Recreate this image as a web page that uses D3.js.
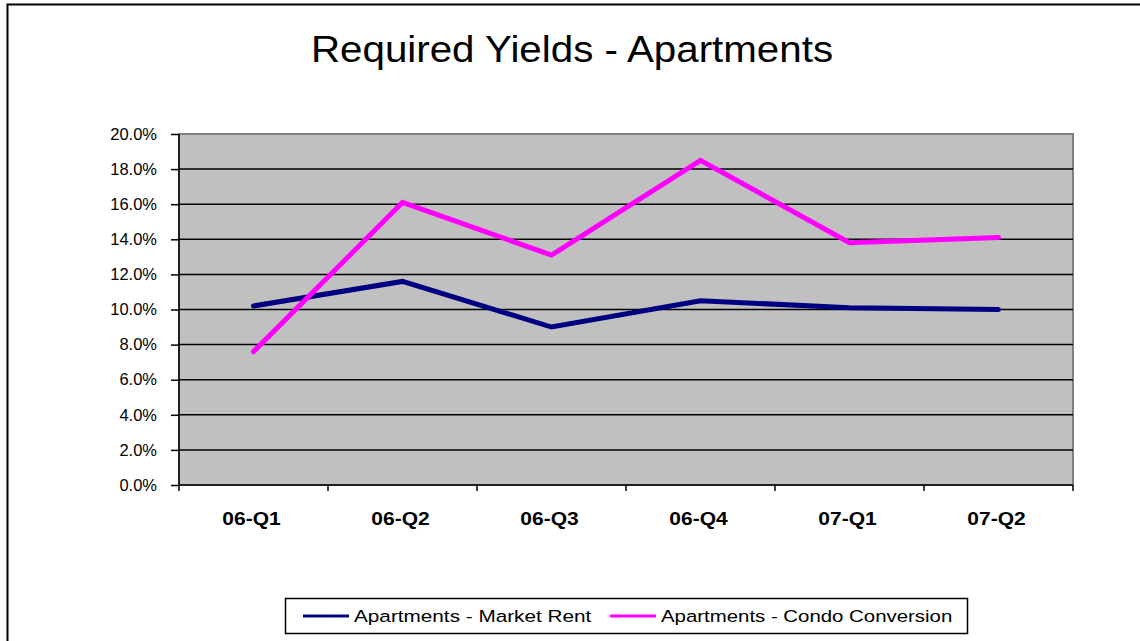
<!DOCTYPE html>
<html lang="en">
    <head>
        <meta charset="utf-8">
        <title>Required Yields - Apartments</title>
        <script src="https://d3js.org/d3.v7.min.js"></script>
        <style type="text/css">
            body { margin: 0; background: #fff; }
            text { font-family: Arial, "Liberation Sans", sans-serif; }
        </style>
    </head>
    <body>
        <script type="text/javascript">

            // data
            var quarters = ["06-Q1", "06-Q2", "06-Q3", "06-Q4", "07-Q1", "07-Q2"];
            var marketRent = [10.2, 11.6, 9.0, 10.5, 10.1, 10.0];
            var condoConversion = [7.6, 16.1, 13.1, 18.5, 13.8, 14.1];
            var yTicks = [0, 2, 4, 6, 8, 10, 12, 14, 16, 18, 20];

            var seriesNames = ["Apartments - Market Rent", "Apartments - Condo Conversion"];
            var seriesColors = ["#000080", "#ff00ff"];

            var svgWidth = 1140, svgHeight = 641;
            var plot = {left: 179, top: 134, right: 1073, bottom: 485};

            var svg = d3.select("body").append("svg")
                .attr("width", svgWidth)
                .attr("height", svgHeight);

            // the original text is a bit wider than Arial, so stretch it horizontally
            function stretchedText(parent, x, y, sx) {
                return parent.append("g")
                    .attr("transform", "translate(" + x + "," + y + ") scale(" + sx + ",1)")
                    .append("text");
            }

            // outer chart border (right/bottom run off the picture)
            svg.append("rect")
                .attr("x", 7.5).attr("y", 4.5)
                .attr("width", 1160).attr("height", 680)
                .attr("fill", "#fff")
                .attr("stroke", "#000")
                .attr("stroke-width", 2);

            // title
            stretchedText(svg, 572, 62, 1.09)
                .attr("text-anchor", "middle")
                .style("font-size", "37px")
                .text("Required Yields - Apartments");

            var x = d3.scaleBand().domain(quarters).range([plot.left, plot.right]);
            var y = d3.scaleLinear().domain([0, 20]).range([plot.bottom, plot.top]);

            // plot background
            svg.append("rect")
                .attr("x", plot.left).attr("y", plot.top)
                .attr("width", plot.right - plot.left)
                .attr("height", plot.bottom - plot.top)
                .attr("fill", "#c0c0c0")
                .attr("stroke", "#808080")
                .attr("stroke-width", 2);

            // gridlines
            svg.append("g")
                .selectAll("line")
                .data(yTicks.filter(function(d) { return d > 0 && d < 20; }))
                .enter().append("line")
                .attr("x1", plot.left).attr("x2", plot.right)
                .attr("y1", function(d) { return y(d); })
                .attr("y2", function(d) { return y(d); })
                .attr("stroke", "#000")
                .attr("stroke-width", 1.5);

            // y axis
            var yAxis = d3.axisLeft(y)
                .tickValues(yTicks)
                .tickSize(8)
                .tickPadding(14)
                .tickFormat(function(d) { return d.toFixed(1) + "%"; });

            var gy = svg.append("g")
                .attr("transform", "translate(" + plot.left + ",0)")
                .call(yAxis);
            gy.selectAll("path, line").attr("stroke", "#000").attr("stroke-width", 1.5);
            gy.select(".domain").attr("d", "M0," + plot.top + "V" + plot.bottom);
            gy.selectAll("text")
                .style("font-size", "16.5px")
                .style("font-family", "Arial, 'Liberation Sans', sans-serif")
                .attr("fill", "#000");

            // x axis: ticks on band boundaries
            var boundaries = quarters.map(function(q) { return x(q); }).concat([plot.right]);
            var gx = svg.append("g");
            gx.append("line")
                .attr("x1", plot.left).attr("x2", plot.right)
                .attr("y1", plot.bottom).attr("y2", plot.bottom)
                .attr("stroke", "#000").attr("stroke-width", 1.5);
            gx.selectAll(".tick")
                .data(boundaries)
                .enter().append("line")
                .attr("x1", function(d) { return d; })
                .attr("x2", function(d) { return d; })
                .attr("y1", plot.bottom).attr("y2", plot.bottom + 6)
                .attr("stroke", "#000").attr("stroke-width", 1.5);
            quarters.forEach(function(q) {
                stretchedText(gx, x(q) + x.bandwidth() / 2 - 2, 525, 1.2)
                    .attr("text-anchor", "middle")
                    .style("font-size", "17.5px")
                    .style("font-weight", "bold")
                    .text(q);
            });

            // lines
            var line = d3.line()
                .x(function(d, i) { return x(quarters[i]) + x.bandwidth() / 2; })
                .y(function(d) { return y(d); });

            [marketRent, condoConversion].forEach(function(series, i) {
                svg.append("path")
                    .datum(series)
                    .attr("d", line)
                    .attr("fill", "none")
                    .attr("stroke", seriesColors[i])
                    .attr("stroke-width", 5)
                    .attr("stroke-linejoin", "miter")
                    .attr("stroke-linecap", "round");
            });

            // legend
            var legend = svg.append("g");
            legend.append("rect")
                .attr("x", 285.5).attr("y", 598.5)
                .attr("width", 682).attr("height", 35)
                .attr("fill", "#fff")
                .attr("stroke", "#000")
                .attr("stroke-width", 1.5);

            var legendX = [303, 610];
            var legendSx = [1.22, 1.2];
            seriesNames.forEach(function(name, i) {
                legend.append("line")
                    .attr("x1", legendX[i]).attr("x2", legendX[i] + 46)
                    .attr("y1", 616).attr("y2", 616)
                    .attr("stroke", seriesColors[i])
                    .attr("stroke-width", 3);
                stretchedText(legend, legendX[i] + 51, 622, legendSx[i])
                    .style("font-size", "17px")
                    .text(name);
            });
        </script>
    </body>
</html>
